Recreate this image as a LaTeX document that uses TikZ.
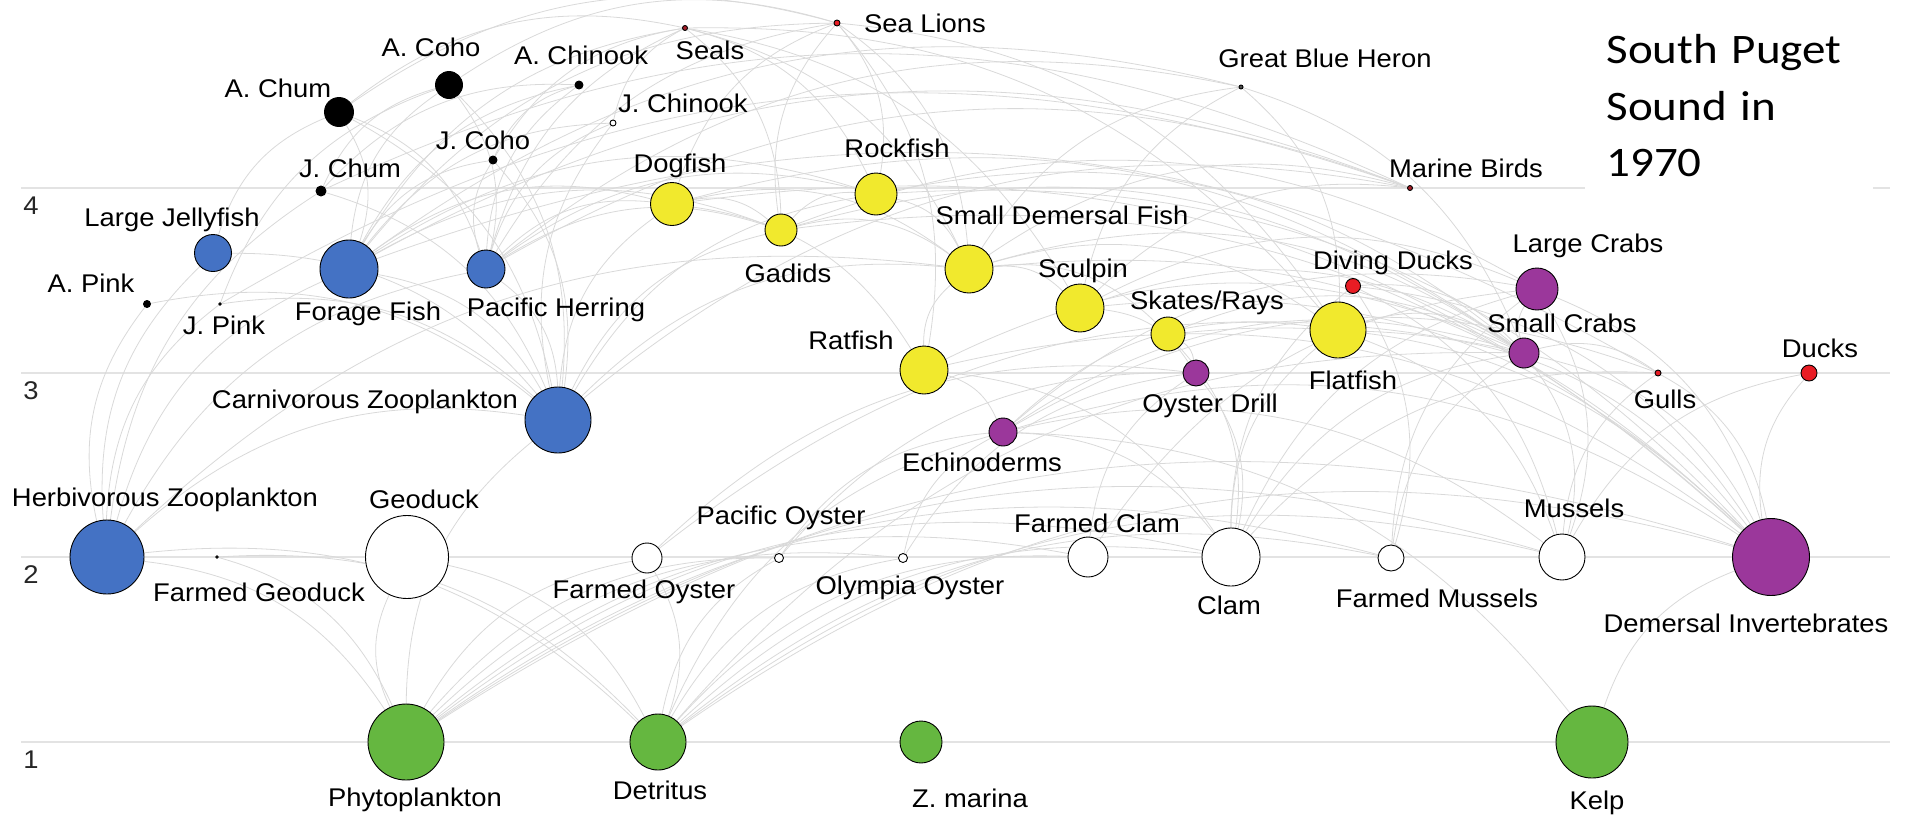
\documentclass[tikz,border=0pt]{standalone}
\usepackage{fontspec}
\setmainfont{Liberation Sans}[FakeStretch=1.07]
\newfontfamily\headfont{Carlito}[FakeStretch=1.12]
\usetikzlibrary{backgrounds}
\definecolor{webblue}{RGB}{68,114,196}
\definecolor{webyellow}{RGB}{241,233,45}
\definecolor{webpurple}{RGB}{155,55,155}
\definecolor{webgreen}{RGB}{101,183,64}
\definecolor{webred}{RGB}{232,28,36}
\definecolor{webdarkred}{RGB}{165,30,40}
\tikzstyle{species} = [circle,draw=black,line width=0.45pt,inner sep=0pt,outer sep=0pt]
\tikzstyle{speciestext} = [font=\fontsize{12.8}{15}\selectfont,anchor=base,yshift=-4.5pt,inner sep=0pt]
\tikzstyle{levelnum} = [font=\fontsize{12.8}{15}\selectfont,text=black!85,anchor=base,yshift=-4.5pt,inner sep=0pt]
\tikzstyle{levelline} = [draw=black!11,line width=0.8pt]
\tikzstyle{link} = [draw=black!15,line width=0.4pt]
\tikzstyle{heading} = [anchor=north west,fill=white,text width=123pt,inner xsep=10.5pt,inner ysep=7pt,
    align=left,font=\headfont\fontsize{21}{28.25}\selectfont]
\newcommand{\species}[6]{
    \node(#1) at (#2) [species, minimum size=#3/2, fill=#4] {};
    \node(#1-name) at (#6) [speciestext] {#5};
}
\newdimen\predx
\newdimen\preyx
\newcommand{\eats}[2]{
    \foreach \prey in {#2}{
        \pgfextractx{\predx}{\pgfpointanchor{#1}{center}}
        \pgfextractx{\preyx}{\pgfpointanchor{\prey}{center}}
        \ifdim\predx<\preyx
            \draw[link] (#1) to[bend left=25] (\prey);
        \else
            \draw[link] (\prey) to[bend left=25] (#1);
        \fi
    }
}

\begin{document}
\begin{tikzpicture}[x=0.5pt,y=-0.5pt]
	\useasboundingbox (0,0) rectangle (1906,815);

	\species{sealions}{837,23}{6}{webred}{Sea Lions}{925,23}
	\species{seals}{685,28}{5}{webdarkred}{Seals}{710,50}
	\species{heron}{1241,87}{4}{black!70}{Great Blue Heron}{1325,58}
	\species{mbirds}{1410,188}{5}{webdarkred}{Marine Birds}{1466,168}
	\species{achum}{339,112}{29}{black}{A. Chum}{278,88}
	\species{acoho}{449,85}{27}{black}{A. Coho}{431,47}
	\species{achinook}{579,85}{8}{black}{A. Chinook}{581,55}
	\species{jchinook}{613,123}{6}{white}{J. Chinook}{683,103}
	\species{jcoho}{493,160}{8}{black}{J. Coho}{483,140}
	\species{jchum}{321,191}{10}{black}{J. Chum}{350,168}
	\species{apink}{147,304}{7}{black}{A. Pink}{91,283}
	\species{jpink}{220,304}{2.5}{black}{J. Pink}{224,325}
	\species{jelly}{213,253}{37}{webblue}{Large Jellyfish}{172,217}
	\species{forage}{349,269}{58}{webblue}{Forage Fish}{368,311}
	\species{herring}{486,269}{38}{webblue}{Pacific Herring}{556,307}
	\species{carnzoo}{558,420}{66}{webblue}{Carnivorous Zooplankton}{365,399}
	\species{herbzoo}{107,557}{74}{webblue}{Herbivorous Zooplankton}{165,497}
	\species{dogfish}{672,204}{43}{webyellow}{Dogfish}{680,163}
	\species{rockfish}{876,194}{42}{webyellow}{Rockfish}{897,148}
	\species{gadids}{781,230}{32}{webyellow}{Gadids}{788,273}
	\species{sdfish}{969,269}{48}{webyellow}{Small Demersal Fish}{1062,215}
	\species{sculpin}{1080,308}{48}{webyellow}{Sculpin}{1083,268}
	\species{skates}{1168,334}{34}{webyellow}{Skates/Rays}{1207,300}
	\species{flatfish}{1338,330}{56}{webyellow}{Flatfish}{1353,380}
	\species{ratfish}{924,370}{48}{webyellow}{Ratfish}{851,340}
	\species{divducks}{1353,286}{15}{webred}{Diving Ducks}{1393,260}
	\species{lcrabs}{1537,289}{42}{webpurple}{Large Crabs}{1588,243}
	\species{scrabs}{1524,353}{30}{webpurple}{Small Crabs}{1562,323}
	\species{drill}{1196,373}{26}{webpurple}{Oyster Drill}{1210,403}
	\species{echino}{1003,432}{28}{webpurple}{Echinoderms}{982,462}
	\species{gulls}{1658,373}{6}{webred}{Gulls}{1665,399}
	\species{ducks}{1809,373}{16}{webred}{Ducks}{1820,348}
	\species{fgeoduck}{217,557}{2.5}{black!60}{Farmed Geoduck}{259,592}
	\species{geoduck}{407,557}{83}{white}{Geoduck}{424,499}
	\species{foyster}{647,558}{30}{white}{Farmed Oyster}{644,589}
	\species{poyster}{779,558}{9}{white}{Pacific Oyster}{781,515}
	\species{oyster}{903,558}{9}{white}{Olympia Oyster}{910,585}
	\species{fclam}{1088,557}{40}{white}{Farmed Clam}{1097,523}
	\species{clam}{1231,557}{58}{white}{Clam}{1229,605}
	\species{fmussel}{1391,558}{26}{white}{Farmed Mussels}{1437,598}
	\species{mussel}{1562,557}{46}{white}{Mussels}{1574,508}
	\species{demersal}{1771,557}{77}{webpurple}{Demersal Invertebrates}{1746,623}
	\species{phyto}{406,742}{76}{webgreen}{Phytoplankton}{415,797}
	\species{detritus}{658,742}{56}{webgreen}{Detritus}{660,790}
	\species{zmarina}{921,742}{42}{webgreen}{Z. marina}{970,798}
	\species{kelp}{1592,742}{72}{webgreen}{Kelp}{1597,800}

	\node(title) at (1585,20) [heading] {South Puget\\Sound in\\1970};

	\begin{pgfonlayer}{background}
		\foreach \lev/\ly in {4/188,3/373,2/557,1/742}{
			\draw[levelline] (21,\ly) -- (1890,\ly);
			\node(level\lev) at (31,{\ly+17}) [levelnum] {\lev};
		}
		\eats{sealions}{rockfish,gadids,dogfish,forage,herring,flatfish,ratfish,achum,acoho,sdfish}
		\eats{seals}{gadids,forage,herring,rockfish,flatfish,sdfish,achum,jcoho,jchinook,sculpin}
		\eats{heron}{sdfish,sculpin,forage,herring,flatfish,scrabs}
		\eats{mbirds}{forage,herring,sdfish,sculpin,jchum,jpink,carnzoo}
		\eats{gulls}{mussel,demersal,scrabs,forage,clam,echino}
		\eats{ducks}{demersal,mussel}
		\eats{divducks}{demersal,mussel,clam,scrabs,fmussel}
		\eats{achum}{forage,carnzoo,herring,jelly}
		\eats{acoho}{forage,herring,jchum,jpink,carnzoo}
		\eats{achinook}{forage,herring,jcoho,jchum}
		\eats{jchinook}{carnzoo,forage,herring}
		\eats{jcoho}{carnzoo,herring,forage}
		\eats{jchum}{carnzoo,herbzoo}
		\eats{apink}{herbzoo,carnzoo}
		\eats{jpink}{herbzoo,carnzoo}
		\eats{jelly}{carnzoo,herbzoo}
		\eats{forage}{carnzoo,herbzoo}
		\eats{herring}{carnzoo,herbzoo}
		\eats{carnzoo}{herbzoo,phyto}
		\eats{herbzoo}{phyto,detritus}
		\eats{geoduck}{phyto,detritus}
		\eats{fgeoduck}{phyto,detritus}
		\eats{foyster}{phyto,detritus}
		\eats{poyster}{phyto,detritus}
		\eats{oyster}{phyto,detritus}
		\eats{fclam}{phyto,detritus}
		\eats{clam}{phyto,detritus}
		\eats{fmussel}{phyto,detritus}
		\eats{mussel}{phyto,detritus}
		\eats{demersal}{detritus,kelp,phyto}
		\eats{echino}{demersal,oyster,poyster,mussel,clam,detritus,kelp}
		\eats{drill}{poyster,oyster,foyster,clam,fclam}
		\eats{dogfish}{forage,herring,gadids,sdfish,ratfish,carnzoo,demersal,scrabs}
		\eats{gadids}{forage,herring,carnzoo,sdfish,demersal,scrabs,lcrabs}
		\eats{rockfish}{forage,herring,gadids,sdfish,carnzoo,scrabs,demersal}
		\eats{sdfish}{carnzoo,herbzoo,demersal,scrabs}
		\eats{sculpin}{sdfish,demersal,scrabs,lcrabs,drill}
		\eats{skates}{sdfish,demersal,scrabs,clam,drill}
		\eats{flatfish}{demersal,scrabs,clam,mussel,sdfish,echino}
		\eats{ratfish}{demersal,clam,scrabs,echino,sdfish}
		\eats{lcrabs}{demersal,clam,mussel,scrabs,fclam,fmussel,echino}
		\eats{scrabs}{demersal,mussel,clam,detritus,fmussel,foyster,echino}
	\end{pgfonlayer}
\end{tikzpicture}
\end{document}
